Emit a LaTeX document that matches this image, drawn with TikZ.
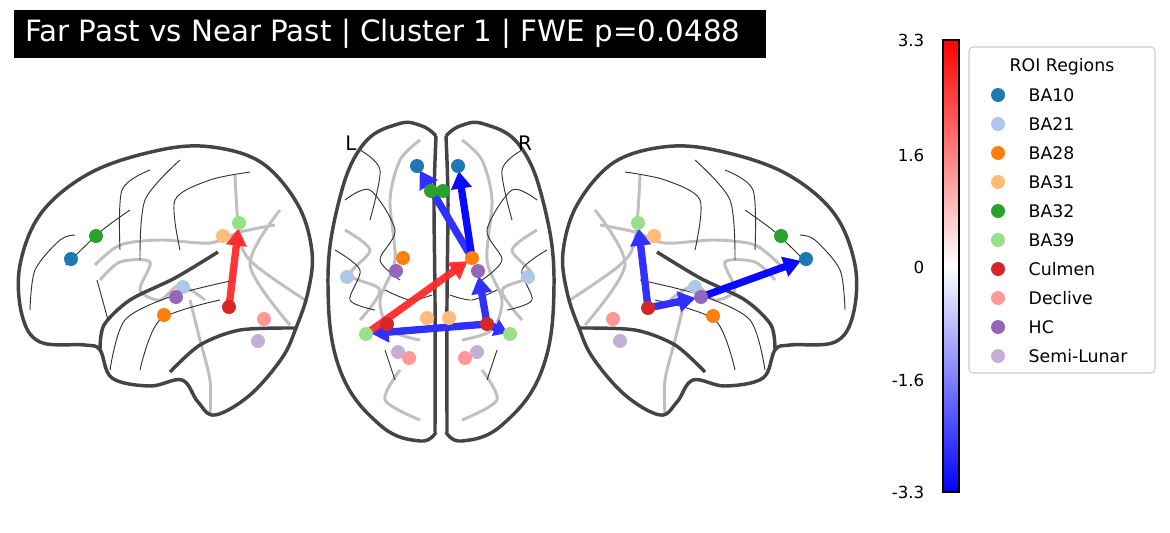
\documentclass[tikz,border=0pt]{standalone}
\usepackage{fontspec}
\setmainfont{DejaVu Sans}
\usetikzlibrary{arrows.meta}
\definecolor{cA}{HTML}{1F77B4}\definecolor{cB}{HTML}{AEC7E8}\definecolor{cC}{HTML}{FF7F0E}
\definecolor{cD}{HTML}{FFBB78}\definecolor{cE}{HTML}{2CA02C}\definecolor{cF}{HTML}{98DF8A}
\definecolor{cG}{HTML}{D62728}\definecolor{cH}{HTML}{FF9896}\definecolor{cI}{HTML}{9467BD}
\definecolor{cJ}{HTML}{C5B0D5}\definecolor{outl}{HTML}{444444}
\definecolor{ared}{HTML}{FF2A2A}\definecolor{ablue}{HTML}{0A0AFF}\definecolor{ablue2}{HTML}{3030FF}
\begin{document}
\begin{tikzpicture}[x=0.75pt,y=-0.75pt,
 pt/.style={circle,fill=#1,inner sep=0pt,minimum size=10.5pt},
 brain/.style={draw=outl,line width=2.6pt,line join=round},
 sul/.style={draw=black!80,line width=0.7pt},
 gsul/.style={draw=black!25,line width=2.2pt},
 conn/.style={line width=5.5pt,-{Triangle[length=13pt,width=15pt]},shorten >=4pt,shorten <=0pt},
 lg/.style={font=\fontsize{13}{15}\selectfont,anchor=west}]
\useasboundingbox (0,0) rectangle (1170,532);
% title
\fill[black] (14,10) rectangle (766,58);
\node[text=white,anchor=west,inner sep=0pt,font=\fontsize{22}{24}\selectfont] (title) at (25,34) {Far Past vs Near Past | Cluster 1 | FWE p=0.0488};
% ---------- left sagittal
\begin{scope}
\draw[gsul] plot[smooth] coordinates {(95,265)(120,245)(160,240)(210,243)(240,232)(275,225)};
\draw[gsul] plot[smooth] coordinates {(100,280)(120,262)(150,262)(140,290)(160,300)(180,285)(205,300)};
\draw[gsul] plot[smooth] coordinates {(190,300)(200,340)(210,380)(210,415)};
\draw[gsul] plot[smooth] coordinates {(235,175)(240,240)(255,265)(305,300)};
\draw[gsul] plot[smooth] coordinates {(280,210)(250,265)(290,325)};
\draw[brain] plot[smooth cycle,tension=0.6] coordinates {(22,315)(20,265)(42,212)(92,172)(160,150)(212,147)(262,163)(298,205)(312,252)(308,292)(296,328)(282,358)(250,395)(215,415)(198,402)(182,380)(150,386)(112,378)(100,350)(85,345)(40,342)};
\draw[brain] plot[smooth] coordinates {(100,350)(104,325)(130,300)(175,278)(218,252)};
\draw[brain] plot[smooth] coordinates {(170,372)(200,345)(240,330)(296,328)};
\draw[sul] plot[smooth] coordinates {(30,310)(35,270)(60,240)(75,235)};
\draw[sul] plot[smooth] coordinates {(66,265)(100,232)(130,210)};
\draw[sul] plot[smooth] coordinates {(120,250)(122,190)(150,170)};
\draw[sul] plot[smooth] coordinates {(140,260)(145,200)(180,160)};
\draw[sul] plot[smooth] coordinates {(180,250)(175,200)(210,180)(250,172)};
\draw[sul] plot[smooth] coordinates {(110,370)(125,320)(175,295)(235,280)};
\draw[sul] plot[smooth] coordinates {(140,370)(160,320)(220,300)};
\draw[sul] plot[smooth] coordinates {(97,280)(108,320)};
\coordinate (lgc) at (229,307);\coordinate (lfc) at (239,223);
\draw[conn,ared,opacity=0.95] (lgc) -- (lfc);
\node[pt=cA] (la) at (71,259) {};\node[pt=cE] (le) at (96,236) {};
\node[pt=cD] (ld) at (223,236) {};\node[pt=cF] (lf) at (lfc) {};
\node[pt=cB] (lb) at (183,287) {};\node[pt=cI] (li) at (176,297) {};
\node[pt=cC] (lc) at (164,315) {};\node[pt=cH] (lh) at (264,319) {};
\node[pt=cJ] (lj) at (258,341) {};\node[pt=cG] (lg) at (lgc) {};
\end{scope}
% ---------- axial
\begin{scope}
\foreach \s in {1,-1}{
\begin{scope}[xshift={441*(1-\s)*0.75pt},xscale=\s]
\draw[gsul] plot[smooth] coordinates {(420,140)(400,160)(390,200)(395,260)(380,300)(390,330)(420,340)};
\draw[gsul] plot[smooth] coordinates {(345,230)(370,250)(350,275)(380,290)(360,320)};
\draw[gsul] plot[smooth] coordinates {(400,370)(385,400)(420,420)};
\draw[sul] plot[smooth] coordinates {(345,200)(370,190)(395,230)(380,260)(400,280)};
\draw[sul] plot[smooth] coordinates {(335,250)(360,270)(350,300)(375,310)};
\draw[sul] plot[smooth] coordinates {(360,150)(380,170)(370,220)};
\draw[sul] plot[smooth] coordinates {(385,290)(410,300)(432,295)};
\draw[sul] plot[smooth] coordinates {(385,350)(395,380)};
\draw[brain] plot[smooth,tension=0.7] coordinates {(436,136)(422,126)(398,124)(362,146)(338,205)(328,285)(340,370)(380,425)(420,441)(436,432)};
\draw[brain] plot[smooth] coordinates {(436,136)(434,200)(435,300)(435,432)};
\end{scope}}
\node[font=\fontsize{15}{17}\selectfont] (L) at (351,143) {L};
\node[font=\fontsize{15}{17}\selectfont] (R) at (525,143) {R};
\coordinate (a1c) at (417,166);\coordinate (a2c) at (458,166);
\coordinate (c2c) at (472,258);\coordinate (g2c) at (487,324);
\coordinate (f1c) at (366,334);\coordinate (f2c) at (510,334);\coordinate (i2c) at (478,271);
\draw[conn,ablue2] (c2c) -- (a1c);
\draw[conn,ablue] (c2c) -- (a2c);
\draw[conn,ablue2] (g2c) -- (f1c);
\draw[conn,ablue2] (g2c) -- (i2c);
\draw[conn,ablue2,shorten >=2pt,-{Triangle[length=10pt,width=13pt]}] (g2c) -- (f2c);
\draw[conn,ared,opacity=0.95] (f1c) -- (c2c);
\node[pt=cA] (a1) at (a1c) {};\node[pt=cA] (a2) at (a2c) {};
\node[pt=cE] (e1) at (431,191) {};\node[pt=cE] (e2) at (443,191) {};
\node[pt=cC] (c1) at (403,258) {};\node[pt=cI] (i1) at (396,271) {};
\node[pt=cB] (b1) at (347,277) {};\node[pt=cB] (b2) at (528,277) {};
\node[pt=cD] (d1) at (427,318) {};\node[pt=cD] (d2) at (449,318) {};
\node[pt=cJ] (j1) at (398,352) {};\node[pt=cJ] (j2) at (477,352) {};
\node[pt=cH] (h1) at (409,358) {};\node[pt=cH] (h2) at (465,358) {};
\node[pt=cF] (f1) at (f1c) {};\node[pt=cF] (f2) at (f2c) {};
\node[pt=cI] (i2) at (i2c) {};
\node[pt=cG] (g1) at (387,324) {};\node[pt=cG] (g2) at (g2c) {};
\node[pt=cC] (c2) at (c2c) {};
\end{scope}
% ---------- right sagittal (mirror)
\begin{scope}[xshift={875*0.75pt},xscale=-1]
\draw[gsul] plot[smooth] coordinates {(95,265)(120,245)(160,240)(210,243)(240,232)(275,225)};
\draw[gsul] plot[smooth] coordinates {(100,280)(120,262)(150,262)(140,290)(160,300)(180,285)(205,300)};
\draw[gsul] plot[smooth] coordinates {(190,300)(200,340)(210,380)(210,415)};
\draw[gsul] plot[smooth] coordinates {(235,175)(240,240)(255,265)(305,300)};
\draw[gsul] plot[smooth] coordinates {(280,210)(250,265)(290,325)};
\draw[brain] plot[smooth cycle,tension=0.6] coordinates {(22,315)(20,265)(42,212)(92,172)(160,150)(212,147)(262,163)(298,205)(312,252)(308,292)(296,328)(282,358)(250,395)(215,415)(198,402)(182,380)(150,386)(112,378)(100,350)(85,345)(40,342)};
\draw[brain] plot[smooth] coordinates {(100,350)(104,325)(130,300)(175,278)(218,252)};
\draw[brain] plot[smooth] coordinates {(170,372)(200,345)(240,330)(296,328)};
\draw[sul] plot[smooth] coordinates {(30,310)(35,270)(60,240)(75,235)};
\draw[sul] plot[smooth] coordinates {(66,265)(100,232)(130,210)};
\draw[sul] plot[smooth] coordinates {(120,250)(122,190)(150,170)};
\draw[sul] plot[smooth] coordinates {(140,260)(145,200)(180,160)};
\draw[sul] plot[smooth] coordinates {(180,250)(175,200)(210,180)(250,172)};
\draw[sul] plot[smooth] coordinates {(110,370)(125,320)(175,295)(235,280)};
\draw[sul] plot[smooth] coordinates {(140,370)(160,320)(220,300)};
\end{scope}
\coordinate (rac) at (806,259);\coordinate (rfc) at (638,223);
\coordinate (ric) at (701,297);\coordinate (rgc) at (648,308);
\draw[conn,ablue2] (rgc) -- (rfc);
\draw[conn,ablue2] (rgc) -- (ric);
\draw[conn,ablue] (ric) -- (rac);
\node[pt=cA] (ra) at (rac) {};\node[pt=cE] (re) at (781,236) {};
\node[pt=cD] (rd) at (654,236) {};\node[pt=cF] (rf) at (rfc) {};
\node[pt=cB] (rb) at (695,287) {};\node[pt=cC] (rc) at (713,316) {};
\node[pt=cH] (rh) at (613,319) {};\node[pt=cJ] (rj) at (620,341) {};
\node[pt=cI] (ri) at (ric) {};\node[pt=cG] (rg) at (rgc) {};
% ---------- colorbar
\shade[top color=red,bottom color=white] (943,40) rectangle (959,266);
\shade[top color=white,bottom color=blue] (943,266) rectangle (959,492);
\draw[black,line width=0.8pt] (943,40) rectangle (959,492);
\foreach \y/\t in {40/3.3,155/1.6,267/0,380/-1.6,492/-3.3}
 \node[font=\fontsize{12.5}{14}\selectfont,anchor=east] at (929,\y) {\t};
% ---------- legend
\draw[draw=black!20,fill=white,rounded corners=3pt,line width=0.8pt] (969,47) rectangle (1155,373);
\node[font=\fontsize{13}{15}\selectfont] (lt) at (1062,67) {ROI Regions};
\foreach \c/\t [count=\i from 0] in {cA/BA10,cB/BA21,cC/BA28,cD/BA31,cE/BA32,cF/BA39,cG/Culmen,cH/Declive,cI/HC,cJ/Semi-Lunar}{
 \node[pt=\c] (m\i) at (998,{95+29*\i}) {};
 \node[lg] (t\i) at (1024,{95+29*\i}) {\t};}
\end{tikzpicture}
\end{document}
